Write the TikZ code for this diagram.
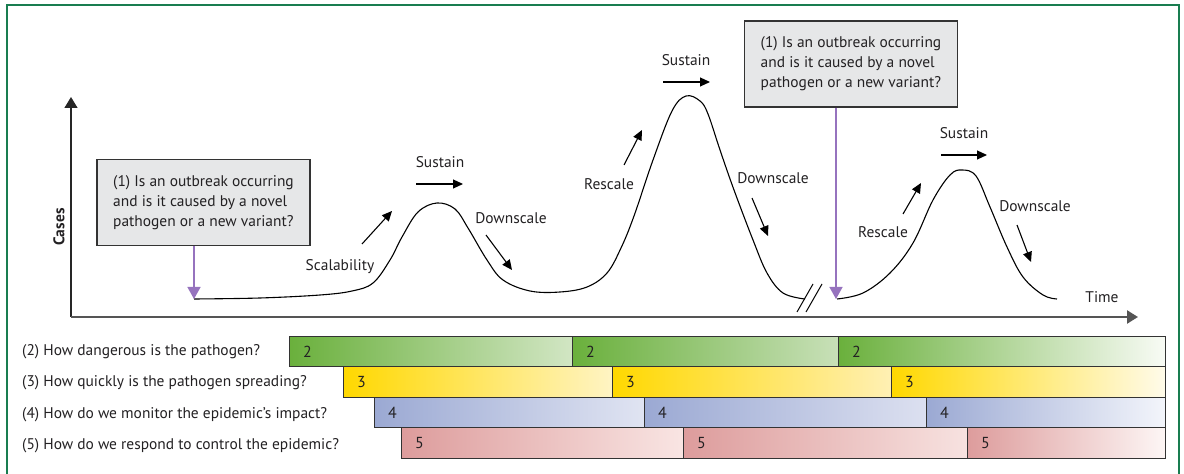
\documentclass[tikz,border=0pt]{standalone}
\usepackage{fontspec}
\setmainfont{PT Sans}
\usetikzlibrary{arrows.meta}
\definecolor{framegreen}{RGB}{25,125,80}
\definecolor{txt}{RGB}{35,33,35}
\definecolor{boxfill}{RGB}{230,231,232}
\definecolor{purp}{RGB}{150,115,190}
\definecolor{axisgrey}{RGB}{85,85,85}
\definecolor{gA}{RGB}{106,176,60}
\definecolor{gE1}{RGB}{210,230,196}
\definecolor{gE2}{RGB}{200,224,184}
\definecolor{gE3}{RGB}{248,251,245}
\definecolor{yA}{RGB}{255,216,0}
\definecolor{yE1}{RGB}{255,244,196}
\definecolor{yE2}{RGB}{255,240,180}
\definecolor{yE3}{RGB}{255,251,234}
\definecolor{bA}{RGB}{155,169,211}
\definecolor{bE1}{RGB}{224,228,242}
\definecolor{bE2}{RGB}{220,224,240}
\definecolor{bE3}{RGB}{243,245,251}
\definecolor{rA}{RGB}{221,156,156}
\definecolor{rE1}{RGB}{249,229,227}
\definecolor{rE2}{RGB}{247,226,224}
\definecolor{rE3}{RGB}{253,246,245}
\begin{document}
\begin{tikzpicture}[x=1bp,y=-1bp,
  font=\fontsize{15.5}{20}\selectfont, text=txt,
  qbox/.style={draw=black!80, line width=1.1bp, fill=boxfill, inner sep=0pt,
     minimum width=213bp, minimum height=86bp, align=left},
  lbl/.style={inner sep=1bp},
  arr/.style={line width=1.1bp, -{Triangle[length=10bp,width=9bp]}},
  parr/.style={draw=purp, line width=1.4bp, -{Triangle[length=12bp,width=13bp]}, purp},
  barseg/.style={draw=black!80, line width=0.8bp, minimum height=30.5bp, inner sep=0pt, anchor=north west},
  num/.style={anchor=west, inner sep=1bp, font=\fontsize{16}{20}\selectfont},
  rowlbl/.style={anchor=west, inner sep=0pt},
  curve/.style={line width=1.1bp, black}
]
\useasboundingbox (0,0) rectangle (1184,474);
\draw[framegreen, line width=1.3bp] (7,480) -- (7,5) -- (1179,5) -- (1179,480);

% axes
\coordinate (O) at (71,317);
\coordinate (ytop) at (71,97);
\coordinate (xend) at (1138,317);
\draw[line width=1.3bp, black!85, -{Triangle[length=11bp,width=13bp]}] (O) -- (ytop);
\draw[line width=2.4bp, axisgrey, -{Triangle[length=11bp,width=13bp]}] (O) -- (xend);
\node[rotate=90, font=\fontsize{15.5}{20}\selectfont\bfseries] (cases) at (59,227) {Cases};
\node[lbl] (time) at (1102,297) {Time};

% curve segments
\draw[curve] plot[smooth, tension=0.6] coordinates {
 (194,299) (260,298) (320,295) (352,291) (373,283) (390,260) (402,237) (418,212) (437,203)
 (455,209) (468,228) (487,260) (503,280) (530,291) (560,292) (587,287) (607,273)
 (621,248) (634,216) (653,160) (672,111) (686,96) (700,101) (708,114) (720,150)
 (734,190) (753,240) (767,273) (783,293) (805,299)};
\draw[curve] plot[smooth, tension=0.6] coordinates {
 (837,299) (863,293) (890,273) (913,243) (933,200) (950,175) (962,170)
 (976,176) (990,207) (1007,247) (1023,277) (1043,295) (1057,299)};
% break marks
\coordinate (bk1a) at (797,312); \coordinate (bk1b) at (813,284);
\coordinate (bk2a) at (806,312); \coordinate (bk2b) at (822,284);
\draw[line width=1bp] (bk1a) -- (bk1b);
\draw[line width=1bp] (bk2a) -- (bk2b);

% question boxes
\node[qbox] (q1) at (203.5,202.5) {(1) Is an outbreak occurring\\and is it caused by a novel\\pathogen or a new variant?};
\node[qbox] (q2) at (851,64) {(1) Is an outbreak occurring\\and is it caused by a novel\\pathogen or a new variant?};
\coordinate (s1) at (194,299);
\coordinate (s2) at (836,299);
\draw[parr] (q1.south -| s1) -- (s1);
\draw[parr] (q2.south -| s2) -- (s2);

% phase labels and arrows
\node[lbl] (scal) at (340,267) {Scalability};
\coordinate (a1s) at (362,244); \coordinate (a1e) at (392,211);
\draw[arr] (a1s) -- (a1e);
\node[lbl] (sus1) at (440,162) {Sustain};
\coordinate (a2s) at (416,184); \coordinate (a2e) at (463,184);
\draw[arr] (a2s) -- (a2e);
\node[lbl] (dn1) at (511,218) {Downscale};
\coordinate (a3s) at (486,235); \coordinate (a3e) at (512,270);
\draw[arr] (a3s) -- (a3e);
\node[lbl] (res1) at (609,184) {Rescale};
\coordinate (a4s) at (624,165); \coordinate (a4e) at (642,130);
\draw[arr] (a4s) -- (a4e);
\node[lbl] (sus2) at (686,60) {Sustain};
\coordinate (a5s) at (663,82); \coordinate (a5e) at (710,82);
\draw[arr] (a5s) -- (a5e);
\node[lbl] (dn2) at (773,178) {Downscale};
\coordinate (a6s) at (752,198); \coordinate (a6e) at (768,236);
\draw[arr] (a6s) -- (a6e);
\node[lbl] (res2) at (883,232) {Rescale};
\coordinate (a7s) at (903,214); \coordinate (a7e) at (921,183);
\draw[arr] (a7s) -- (a7e);
\node[lbl] (sus3) at (964,133) {Sustain};
\coordinate (a8s) at (941,155); \coordinate (a8e) at (987,155);
\draw[arr] (a8s) -- (a8e);
\node[lbl] (dn3) at (1035,206) {Downscale};
\coordinate (a9s) at (1017,225); \coordinate (a9e) at (1031,262);
\draw[arr] (a9s) -- (a9e);

% row labels
\node[rowlbl] (r2) at (22,352) {(2) How dangerous is the pathogen?};
\node[rowlbl] (r3) at (22,383) {(3) How quickly is the pathogen spreading?};
\node[rowlbl] (r4) at (22,414.5) {(4) How do we monitor the epidemic’s impact?};
\node[rowlbl] (r5) at (22,446) {(5) How do we respond to control the epidemic?};

% bars row 2
\node[barseg, minimum width=283bp, left color=gA, right color=gE1] (b2a) at (289,336) {};
\node[barseg, minimum width=266bp, left color=gA, right color=gE2] (b2b) at (572,336) {};
\node[barseg, minimum width=327bp, left color=gA, right color=gE3] (b2c) at (838,336) {};
% row 3
\node[barseg, minimum width=269bp, left color=yA, right color=yE1] (b3a) at (343,366.5) {};
\node[barseg, minimum width=279bp, left color=yA, right color=yE2] (b3b) at (612,366.5) {};
\node[barseg, minimum width=274bp, left color=yA, right color=yE3] (b3c) at (891,366.5) {};
% row 4
\node[barseg, minimum width=270bp, left color=bA, right color=bE1] (b4a) at (374,397) {};
\node[barseg, minimum width=282bp, left color=bA, right color=bE2] (b4b) at (644,397) {};
\node[barseg, minimum width=239bp, left color=bA, right color=bE3] (b4c) at (926,397) {};
% row 5
\node[barseg, minimum width=282bp, left color=rA, right color=rE1] (b5a) at (401,427.5) {};
\node[barseg, minimum width=284bp, left color=rA, right color=rE2] (b5b) at (683,427.5) {};
\node[barseg, minimum width=198bp, left color=rA, right color=rE3] (b5c) at (967,427.5) {};

\foreach \b/\n in {b2a/2,b2b/2,b2c/2,b3a/3,b3b/3,b3c/3,b4a/4,b4b/4,b4c/4,b5a/5,b5b/5,b5c/5}
  \node[num] (n\b) at ([xshift=13bp]\b.west) {\n};
\end{tikzpicture}
\end{document}
